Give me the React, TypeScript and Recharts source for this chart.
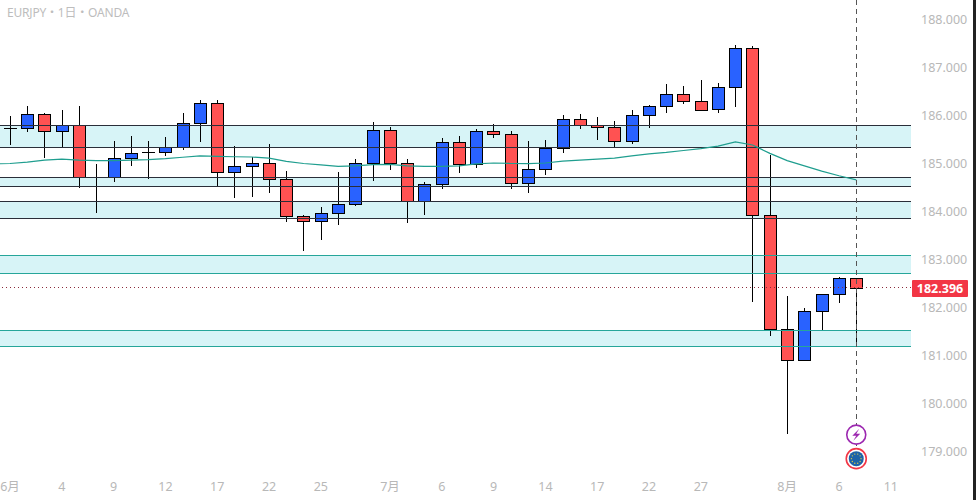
import { ComposedChart, Bar, Line, XAxis, YAxis, ReferenceArea, ReferenceLine, ReferenceDot } from "recharts";

const FONT = "'Noto Sans', 'Noto Sans CJK JP', sans-serif";

const opens = [
  185.72, 185.72, 186.02, 185.66, 185.79, 184.7, 184.7, 185.1, 185.22, 185.22,
  185.33, 185.83, 186.26, 184.81, 184.93, 184.99, 184.66, 183.89, 183.785, 183.95,
  184.14, 184.99, 185.68, 184.99, 184.2, 184.56, 185.43, 184.97, 185.66, 185.6,
  184.58, 184.87, 185.31, 185.91, 185.785, 185.74, 185.45, 185.99, 186.18, 186.43,
  186.285, 186.12, 186.58, 187.39, 183.91, 181.535, 180.89, 181.91, 182.265, 182.6,
];
const closes = [
  185.73, 186.02, 185.66, 185.79, 184.7, 184.7, 185.1, 185.2, 185.23, 185.33,
  185.83, 186.26, 184.81, 184.93, 184.99, 184.66, 183.89, 183.785, 183.95, 184.14,
  184.99, 185.68, 184.99, 184.2, 184.56, 185.43, 184.97, 185.66, 185.6, 184.58,
  184.87, 185.31, 185.91, 185.785, 185.74, 185.45, 185.99, 186.18, 186.43, 186.285,
  186.11, 186.58, 187.39, 183.91, 181.535, 180.89, 181.91, 182.265, 182.6, 182.396,
];
const highs = [
  185.98, 186.19, 186.035, 186.1, 186.19, 184.98, 185.46, 185.56, 185.46, 185.54,
  186.04, 186.31, 186.31, 185.35, 185.12, 185.4, 184.83, 183.92, 184.08, 184.81,
  185.08, 185.85, 185.74, 185.08, 184.6, 185.52, 185.56, 185.71, 185.81, 185.67,
  185.46, 185.48, 186.0, 186.02, 185.96, 185.875, 186.1, 186.21, 186.65, 186.6,
  186.73, 186.67, 187.46, 187.44, 185.17, 182.23, 181.97, 182.265, 182.625, 182.6,
];
const lows = [
  185.375, 185.65, 185.1, 185.33, 184.485, 183.965, 184.61, 184.94, 184.66, 185.15,
  185.27, 185.44, 184.51, 184.28, 184.3, 184.38, 183.78, 183.17, 183.4, 183.715,
  184.11, 184.63, 184.85, 183.76, 183.92, 184.465, 184.8, 184.9, 185.53, 184.465,
  184.38, 184.76, 185.215, 185.715, 185.48, 185.33, 185.4, 185.735, 186.05, 186.235,
  186.11, 186.05, 186.17, 182.11, 181.4, 179.35, 180.89, 181.52, 182.09, 181.25,
];
// moving average, first value sits just left of the visible area
const maValues = [
  184.98, 184.99, 185.02, 185.06, 185.08, 185.06, 185.05, 185.05, 185.06, 185.07, 185.09,
  185.12, 185.15, 185.14, 185.13, 185.125, 185.1, 185.035, 184.99, 184.96, 184.93,
  184.94, 184.965, 184.97, 184.94, 184.93, 184.93, 184.94, 184.98, 185.0, 184.99,
  184.985, 185.0, 185.04, 185.06, 185.08, 185.1, 185.15, 185.19, 185.22, 185.26,
  185.3, 185.35, 185.44, 185.375, 185.2, 185.05, 184.94, 184.83, 184.735, 184.65,
];

const darkZones = [
  [185.785, 185.33],
  [184.7, 184.51],
  [184.2, 183.85],
];
const tealZones = [
  [183.08, 182.7],
  [181.515, 181.18],
];

const lastPrice = 182.396;
const priceTicks = [179, 180, 181, 182, 183, 184, 185, 186, 187, 188];
const dateTickPos = [0, 3, 6, 9, 12, 15, 18, 22, 25, 28, 31, 34, 37, 40, 45, 48, 51];
const dateTickLabels = ["6月", "4", "9", "12", "17", "22", "25", "7月", "6", "9", "14", "17", "22", "27", "8月", "6", "11"];

const rows = maValues.map((ma, n) => {
  const i = n - 1;
  if (i < 0) return { i, ma };
  return { i, ma, open: opens[i], close: closes[i], high: highs[i], low: lows[i], range: [lows[i], highs[i]] };
});

function Candle(props: any) {
  const { x, y, width, height, payload } = props;
  if (payload.open === undefined) return null;
  const cx = Math.round(x + width / 2) + 0.5;
  const perUnit = height / (payload.high - payload.low);
  const top = Math.round(y + (payload.high - Math.max(payload.open, payload.close)) * perUnit) + 0.5;
  const bottom = Math.round(y + (payload.high - Math.min(payload.open, payload.close)) * perUnit) + 0.5;
  const up = payload.close > payload.open;
  const doji = bottom - top < 1.5;
  return (
    <g shapeRendering="crispEdges">
      <line x1={cx} x2={cx} y1={y} y2={y + height} stroke="#000" strokeWidth={1} />
      {doji ? (
        <line x1={cx - 6.5} x2={cx + 6.5} y1={top} y2={top} stroke="#000" strokeWidth={1} />
      ) : (
        <rect x={cx - 6} y={top} width={12} height={bottom - top} fill={up ? "#2962ff" : "#ff5252"} stroke="#000" strokeWidth={1} />
      )}
    </g>
  );
}

function PriceTag(props: any) {
  const y = props.viewBox.y;
  return (
    <g>
      <rect x={912} y={y - 8} width={56} height={17} fill="#f23645" rx={1} />
      <text x={940} y={y + 5} fill="#fff" fontSize={12.5} fontWeight={700} textAnchor="middle" fontFamily={FONT}>
        {lastPrice.toFixed(3)}
      </text>
    </g>
  );
}

function BoltIcon(props: any) {
  const { cx, cy } = props;
  return (
    <g>
      <circle cx={cx} cy={cy} r={9.5} fill="#fff" stroke="#9c27b0" strokeWidth={1.6} />
      <path d={`M${cx + 3} ${cy - 6}L${cx - 4} ${cy + 1}L${cx} ${cy + 1}L${cx - 3} ${cy + 6}L${cx + 4} ${cy - 1}L${cx} ${cy - 1}Z`} fill="#9c27b0" />
    </g>
  );
}

function FlagIcon(props: any) {
  const { cx, cy } = props;
  const stars = [0, 1, 2, 3, 4, 5, 6, 7, 8, 9];
  return (
    <g>
      <circle cx={cx} cy={cy} r={10} fill="#fff" stroke="#f23645" strokeWidth={1.6} />
      <circle cx={cx} cy={cy} r={7.5} fill="#1e63a8" />
      {stars.map((s) => (
        <circle
          key={s}
          cx={cx + 4.8 * Math.cos((s * Math.PI) / 5)}
          cy={cy + 4.8 * Math.sin((s * Math.PI) / 5)}
          r={0.7}
          fill="#d9c94a"
        />
      ))}
    </g>
  );
}

const axisTick = { fill: "#b8b8b8", fontSize: 12.5, fontFamily: FONT };

export default function App() {
  return (
    <div style={{ position: "absolute", left: 0, top: 0, width: 976, height: 500, background: "#fff", overflow: "hidden" }}>
      <ComposedChart
        width={976}
        height={500}
        data={rows}
        margin={{ top: 0, right: 0, bottom: 0, left: 0 }}
      >
        <XAxis
          dataKey="i"
          type="number"
          domain={[-0.58, 52.17]}
          allowDataOverflow
          ticks={dateTickPos}
          interval={0}
          height={30}
          axisLine={false}
          tickLine={false}
          tick={axisTick}
          tickMargin={6}
          tickFormatter={(v: number) => dateTickLabels[dateTickPos.indexOf(v)]}
        />
        <YAxis
          orientation="right"
          type="number"
          width={65}
          domain={[178.604, 188.396]}
          allowDataOverflow
          ticks={priceTicks}
          interval={0}
          axisLine={false}
          tickLine={false}
          tick={{ ...axisTick, dy: 1 }}
          tickMargin={4}
          tickFormatter={(v: number) => v.toFixed(3)}
        />
        {darkZones.map((z, n) => (
          <ReferenceArea key={"d" + n} y1={z[1]} y2={z[0]} fill="#d7f4f7" fillOpacity={1} stroke="none" />
        ))}
        {tealZones.map((z, n) => (
          <ReferenceArea key={"t" + n} y1={z[1]} y2={z[0]} fill="#d7f4f7" fillOpacity={1} stroke="none" />
        ))}
        {darkZones.flat().map((v) => (
          <ReferenceLine key={"dl" + v} y={v} stroke="#2a2e39" strokeWidth={1} shapeRendering="crispEdges" />
        ))}
        {tealZones.flat().map((v) => (
          <ReferenceLine key={"tl" + v} y={v} stroke="#26a69a" strokeWidth={1} shapeRendering="crispEdges" />
        ))}
        <ReferenceLine y={lastPrice} stroke="#8a2a3a" strokeDasharray="1 3" shapeRendering="crispEdges" label={<PriceTag />} />
        <Line
          dataKey="ma"
          type="linear"
          stroke="#1f9e8f"
          strokeWidth={1.2}
          dot={false}
          activeDot={false}
          isAnimationActive={false}
        />
        <ReferenceLine
          segment={[{ x: 49, y: 188.396 }, { x: 49, y: 179.1 }]}
          stroke="#555"
          strokeDasharray="5 4"
          shapeRendering="crispEdges"
        />
        <Bar dataKey="range" barSize={13} shape={<Candle />} isAnimationActive={false} />
        <ReferenceDot x={49} y={179.34} shape={<BoltIcon />} />
        <ReferenceDot x={49} y={178.84} shape={<FlagIcon />} />
      </ComposedChart>
      <div style={{ position: "absolute", left: 7, top: 3, color: "#bdbdbd", fontSize: 12, letterSpacing: -0.2, fontFamily: FONT }}>
        EURJPY・1日・OANDA
      </div>
      <div style={{ position: "absolute", left: 973, top: 0, width: 3, height: 500, background: "#222" }} />
    </div>
  );
}
